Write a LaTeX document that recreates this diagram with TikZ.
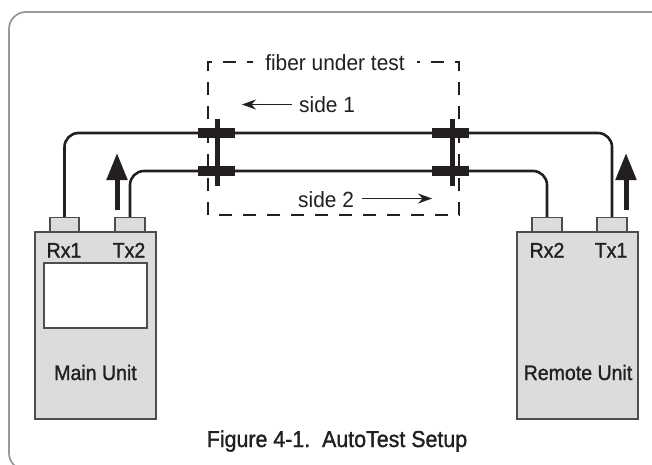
\documentclass[tikz,border=0pt]{standalone}
\usepackage{fontspec}
\setmainfont{Liberation Sans}
\newfontfamily\labfont[FakeStretch=0.95]{Liberation Sans}
\newfontfamily\labfontb[FakeStretch=0.93,FakeBold=1.3]{Liberation Sans}
\usetikzlibrary{arrows.meta}
\definecolor{unitgray}{HTML}{DCDCDC}
\definecolor{ink}{HTML}{231F20}
\tikzset{
  unitbox/.style={draw=ink!80, fill=unitgray, line width=1.3pt},
  portbox/.style={draw=ink!80, fill=unitgray, line width=1.1pt},
  fiber/.style={draw=ink, line width=2.6pt, rounded corners=14pt},
  splice/.style={fill=ink, inner sep=0pt, draw=none},
  lbl/.style={font=\labfont\fontsize{22}{22}\selectfont, text=ink, inner sep=0pt},
  lblb/.style={font=\labfontb\fontsize{21}{21}\selectfont, text=ink, inner sep=0pt, anchor=base},
  caplbl/.style={font=\labfontb\fontsize{23}{23}\selectfont, text=ink, inner sep=0pt, anchor=base},
  thinarrow/.style={draw=ink, line width=1pt, -{Stealth[length=14pt,width=10pt]}},
  thickarrow/.style={draw=ink, line width=5pt, -{Triangle[length=27pt,width=20pt]}},
  dashbox/.style={draw=ink, line width=1.1pt, dash pattern=on 13pt off 11pt},
}
\begin{document}
\begin{tikzpicture}[x=1pt,y=-1pt]
\useasboundingbox (0,0) rectangle (652,464);
\begin{scope}
\clip (0,0) rectangle (652,464);
\draw[black!40, line width=1.8pt, rounded corners=17pt] (9,12) rectangle (668,470);
\end{scope}

% dashed box
\draw[dashbox] (335,62) -- (459,62) -- (459,215) -- (208,215) -- (208,62) -- cycle;
\node[lbl, fill=white, inner xsep=12pt, inner ysep=4pt] (fut) at (335,63) {fiber under test};

% units
\node[unitbox, minimum width=121pt, minimum height=187pt, inner sep=0pt] (main) at (95.5,325.5) {};
\node[draw=ink!80, fill=white, line width=1.1pt, minimum width=103pt, minimum height=65pt, inner sep=0pt] (screen) at (95.5,295.5) {};
\node[unitbox, minimum width=121pt, minimum height=187pt, inner sep=0pt] (remote) at (577.5,325.5) {};

\node[portbox, minimum width=29pt, minimum height=14pt, inner sep=0pt, anchor=south] (rx1) at (64.5,232) {};
\node[portbox, minimum width=30pt, minimum height=14pt, inner sep=0pt, anchor=south] (tx2) at (130,232) {};
\node[portbox, minimum width=30pt, minimum height=14pt, inner sep=0pt, anchor=south] (rx2) at (547,232) {};
\node[portbox, minimum width=30pt, minimum height=14pt, inner sep=0pt, anchor=south] (tx1) at (612,232) {};

\node[lblb] (lrx1) at (64,257.5) {Rx1};
\node[lblb] (ltx2) at (129,257.5) {Tx2};
\node[lblb] (lrx2) at (547,257.5) {Rx2};
\node[lblb] (ltx1) at (611,257.5) {Tx1};
\node[lblb] (lmain) at (95.5,380) {Main Unit};
\node[lblb] (lremote) at (578,380) {Remote Unit};

% splices
\node[splice, minimum width=5pt, minimum height=67pt] (lbar) at (217,152.5) {};
\node[splice, minimum width=37pt, minimum height=10pt] (l1) at (216.5,133) {};
\node[splice, minimum width=37pt, minimum height=10pt] (l2) at (216.5,171) {};
\node[splice, minimum width=5pt, minimum height=67pt] (rbar) at (452,152.5) {};
\node[splice, minimum width=37pt, minimum height=10pt] (r1) at (450.5,133) {};
\node[splice, minimum width=37pt, minimum height=10pt] (r2) at (450.5,171) {};

% fibers
\draw[fiber] (rx1.north) |- (l1.center) -- (r1.center) -| (tx1.north);
\draw[fiber] (tx2.north) |- (l2.center) -- (r2.center) -| (rx2.north);

% side labels
\node[lbl, anchor=base west] (s1) at (299,112.5) {side 1};
\coordinate (s1end) at (242,104.5);
\draw[thinarrow] (292,104.5) -- (s1end);
\node[lbl, anchor=base west] (s2) at (298,207.5) {side 2};
\coordinate (s2end) at (432,198.5);
\draw[thinarrow] (362,198.5) -- (s2end);

% thick arrows
\coordinate (la0) at (117,210);
\coordinate (la1) at (117,153);
\draw[thickarrow] (la0) -- (la1);
\coordinate (ra0) at (626,210);
\coordinate (ra1) at (626,153);
\draw[thickarrow] (ra0) -- (ra1);

% caption
\node[caplbl] (cap) at (337,447) {Figure 4-1.\ \ AutoTest Setup};
\end{tikzpicture}
\end{document}
